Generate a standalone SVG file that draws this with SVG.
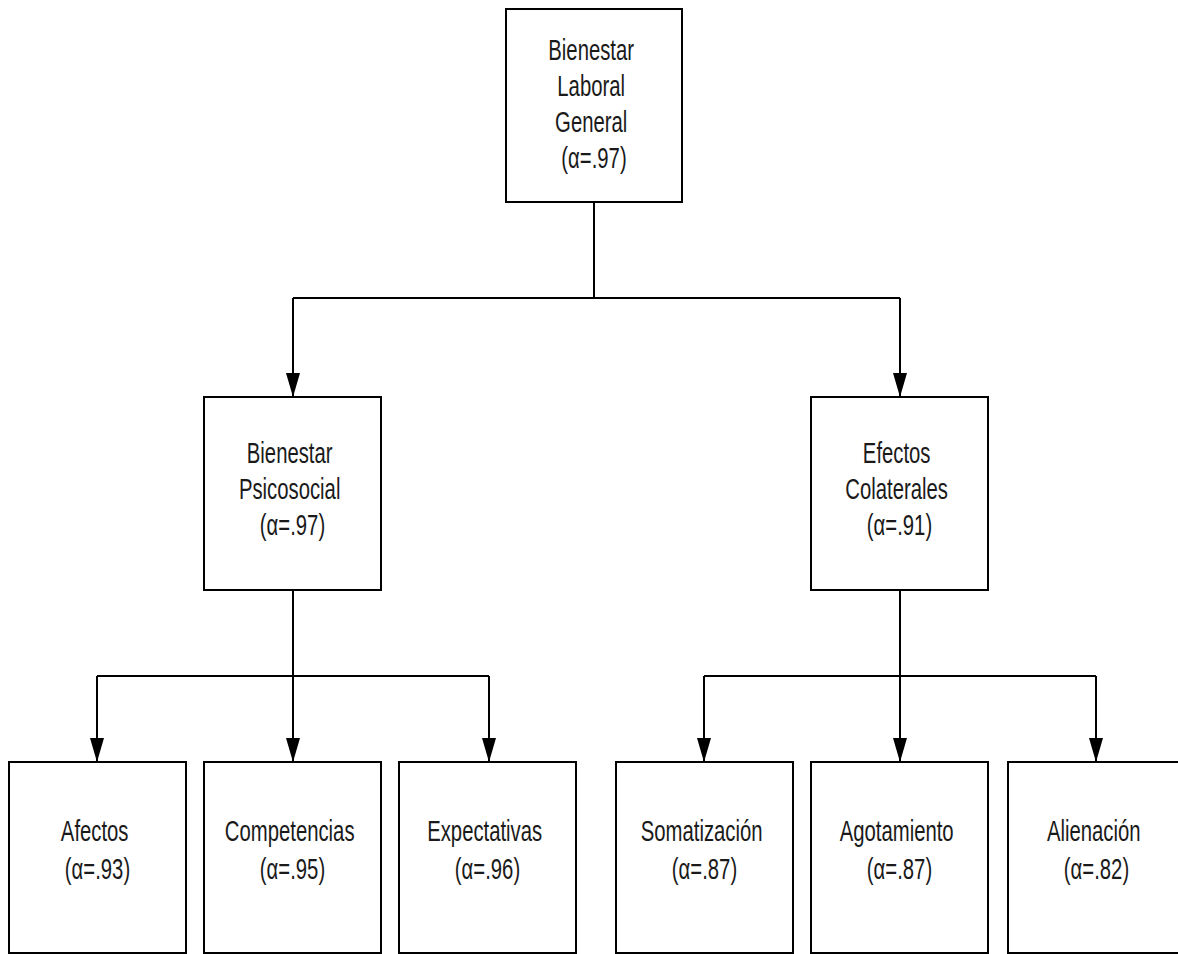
<svg xmlns="http://www.w3.org/2000/svg" width="1178" height="954" viewBox="0 0 1178 954">
  <style>
    .box { fill: #ffffff; stroke: #000000; stroke-width: 2; }
    .link { fill: none; stroke: #000000; stroke-width: 2; }
    .t { font-family: "Liberation Sans", Arial, sans-serif; font-size: 29px; fill: #1a1a1a; text-anchor: middle; }
  </style>
  <defs>
    <marker id="arrow" markerUnits="userSpaceOnUse" viewBox="0 0 24 14" markerWidth="24" markerHeight="14" refX="24" refY="7" orient="auto">
      <path d="M0,0 L24,7 L0,14 z" fill="#000000"/>
    </marker>
  </defs>
  <rect width="1178" height="954" fill="#ffffff"/>

  <!-- connectors -->
  <g id="connectors" class="link">
    <path d="M594,202 V298 M293,298 H900"/>
    <path d="M293,298 V397" marker-end="url(#arrow)"/>
    <path d="M900,298 V397" marker-end="url(#arrow)"/>
    <path d="M293,590 V676 M97,676 H489"/>
    <path d="M97,676 V762" marker-end="url(#arrow)"/>
    <path d="M293,676 V762" marker-end="url(#arrow)"/>
    <path d="M489,676 V762" marker-end="url(#arrow)"/>
    <path d="M900,590 V676 M704,676 H1096"/>
    <path d="M704,676 V762" marker-end="url(#arrow)"/>
    <path d="M900,676 V762" marker-end="url(#arrow)"/>
    <path d="M1096,676 V762" marker-end="url(#arrow)"/>
  </g>

  <!-- root -->
  <g id="bienestar-laboral-general">
    <rect class="box" x="506" y="9" width="176" height="193"/>
    <text class="t" transform="translate(594 0) scale(0.7 1)">
      <tspan x="0" y="60">Bienestar</tspan>
      <tspan x="0" y="96">Laboral</tspan>
      <tspan x="0" y="132">General</tspan>
      <tspan x="0" y="168">(α=.97)</tspan>
    </text>
  </g>

  <!-- second level -->
  <g id="bienestar-psicosocial">
    <rect class="box" x="204" y="397" width="177" height="193"/>
    <text class="t" transform="translate(292.5 0) scale(0.7 1)">
      <tspan x="0" y="463">Bienestar</tspan>
      <tspan x="0" y="499">Psicosocial</tspan>
      <tspan x="0" y="535">(α=.97)</tspan>
    </text>
  </g>
  <g id="efectos-colaterales">
    <rect class="box" x="811" y="397" width="177" height="193"/>
    <text class="t" transform="translate(899.5 0) scale(0.7 1)">
      <tspan x="0" y="463">Efectos</tspan>
      <tspan x="0" y="499">Colaterales</tspan>
      <tspan x="0" y="535">(α=.91)</tspan>
    </text>
  </g>

  <!-- third level -->
  <g id="afectos">
    <rect class="box" x="9" y="762" width="177" height="191"/>
    <text class="t" transform="translate(97.5 0) scale(0.7 1)">
      <tspan x="0" y="841">Afectos</tspan>
      <tspan x="0" y="879">(α=.93)</tspan>
    </text>
  </g>
  <g id="competencias">
    <rect class="box" x="204" y="762" width="177" height="191"/>
    <text class="t" transform="translate(292.5 0) scale(0.7 1)">
      <tspan x="0" y="841">Competencias</tspan>
      <tspan x="0" y="879">(α=.95)</tspan>
    </text>
  </g>
  <g id="expectativas">
    <rect class="box" x="399" y="762" width="177" height="191"/>
    <text class="t" transform="translate(487.5 0) scale(0.7 1)">
      <tspan x="0" y="841">Expectativas</tspan>
      <tspan x="0" y="879">(α=.96)</tspan>
    </text>
  </g>
  <g id="somatizacion">
    <rect class="box" x="616" y="762" width="177" height="191"/>
    <text class="t" transform="translate(704.5 0) scale(0.7 1)">
      <tspan x="0" y="841">Somatización</tspan>
      <tspan x="0" y="879">(α=.87)</tspan>
    </text>
  </g>
  <g id="agotamiento">
    <rect class="box" x="811" y="762" width="177" height="191"/>
    <text class="t" transform="translate(899.5 0) scale(0.7 1)">
      <tspan x="0" y="841">Agotamiento</tspan>
      <tspan x="0" y="879">(α=.87)</tspan>
    </text>
  </g>
  <g id="alienacion">
    <rect class="box" x="1008" y="762" width="177" height="191"/>
    <text class="t" transform="translate(1096.5 0) scale(0.7 1)">
      <tspan x="0" y="841">Alienación</tspan>
      <tspan x="0" y="879">(α=.82)</tspan>
    </text>
  </g>
</svg>
